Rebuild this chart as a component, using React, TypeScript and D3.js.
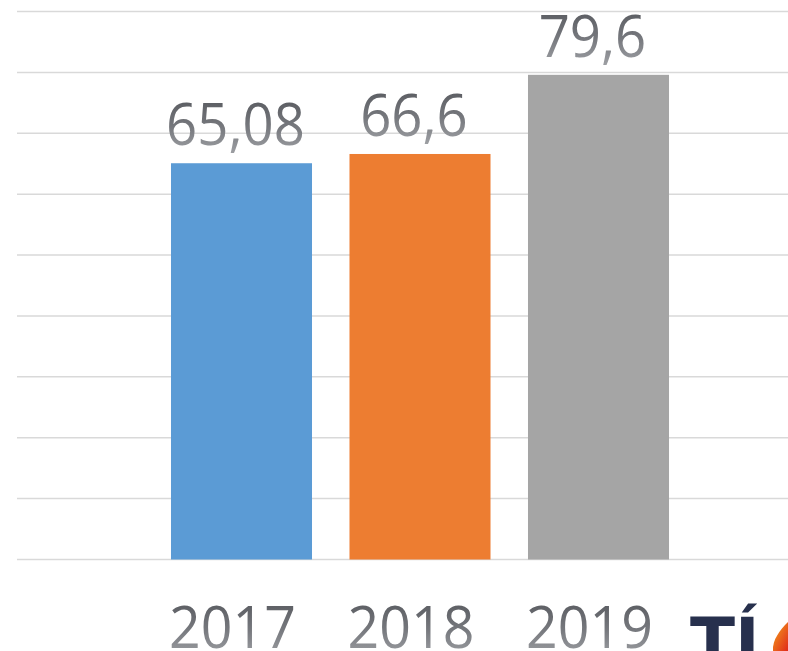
import React from "react";
import * as d3 from "d3";

const categories = ["2017", "2018", "2019"];
const values = [65.08, 66.6, 79.6];
const valueLabels = ["65,08", "66,6", "79,6"];
const colors = ["#5b9bd5", "#ed7d31", "#a5a5a5"];
const gridTicks = [0, 10, 20, 30, 40, 50, 60, 70, 80, 90];

const W = 788;
const H = 651;

export default function App() {
  const x = d3
    .scaleBand<string>()
    .domain(categories)
    .range([152.25, 687.75])
    .paddingInner(0.21)
    .paddingOuter(0.105);
  const y = d3.scaleLinear().domain([0, 90]).range([559.5, 11.5]);
  const font = "'Open Sans', 'Liberation Sans', sans-serif";

  return (
    <svg
      width={W}
      height={H}
      style={{ position: "fixed", left: 0, top: 0, background: "#fff" }}
    >
      <defs>
        <linearGradient id="txt" x1="0" y1="0" x2="0" y2="1">
          <stop offset="0" stopColor="#4a4c51" />
          <stop offset="0.55" stopColor="#76787d" />
          <stop offset="1" stopColor="#a9abaf" />
        </linearGradient>
        <linearGradient id="flame" x1="0" y1="0" x2="1" y2="1">
          <stop offset="0" stopColor="#f5a31a" />
          <stop offset="1" stopColor="#e02a1c" />
        </linearGradient>
      </defs>
      <rect width={W} height={H} fill="#fff" />
      {gridTicks.map((t) => (
        <line
          key={t}
          x1={17}
          x2={W}
          y1={y(t)}
          y2={y(t)}
          stroke="#d9d9d9"
          strokeWidth={1.5}
        />
      ))}
      {categories.map((c, i) => (
        <rect
          key={c}
          x={x(c)}
          y={y(values[i])}
          width={x.bandwidth()}
          height={y(0) - y(values[i])}
          fill={colors[i]}
        />
      ))}
      {categories.map((c, i) => (
        <text
          key={"v" + c}
          x={(x(c) as number) + x.bandwidth() / 2 - 6}
          y={y(values[i]) - 18}
          textAnchor="middle"
          fontFamily={font}
          fontSize={58}
          fill="url(#txt)"
          transform={`translate(${((x(c) as number) + x.bandwidth() / 2 - 6) * 0.06},0) scale(0.94,1)`}
        >
          {valueLabels[i]}
        </text>
      ))}
      {categories.map((c) => (
        <text
          key={"c" + c}
          x={(x(c) as number) + x.bandwidth() / 2 - 9}
          y={648}
          textAnchor="middle"
          fontFamily={font}
          fontSize={59}
          fill="url(#txt)"
          transform={`translate(${((x(c) as number) + x.bandwidth() / 2 - 9) * 0.06},0) scale(0.94,1)`}
        >
          {c}
        </text>
      ))}
      <g>
        <text
          x={690}
          y={665}
          fontFamily="'DejaVu Sans', sans-serif"
          fontWeight="bold"
          fontSize={66}
          fill="#27304d"
        >
          TÍ
        </text>
        <path
          d="M788,622 C780,630 772,640 773,651 L788,651 Z"
          fill="url(#flame)"
        />
      </g>
    </svg>
  );
}
